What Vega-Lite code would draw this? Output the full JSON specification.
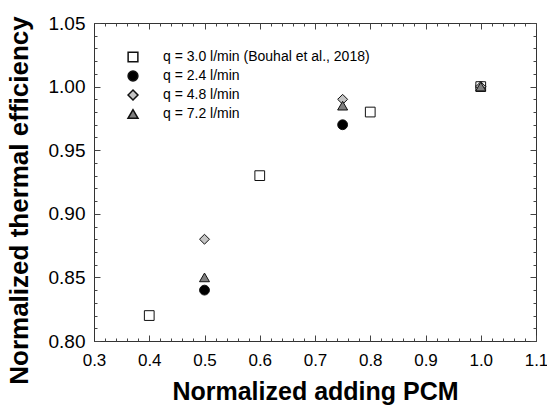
{
  "$schema": "https://vega.github.io/schema/vega-lite/v6.json",
  "autosize": {"type": "none"},
  "padding": {"left": 94, "top": 23, "right": 11, "bottom": 68},
  "width": 442,
  "height": 318,
  "background": "white",
  "config": {
    "font": "Liberation Sans",
    "view": {"stroke": "#333", "strokeWidth": 1},
    "axis": {"tickColor": "#444", "domainColor": "#333", "grid": false, "tickWidth": 1}
  },
  "data": {"values": [
    {"series": "q = 3.0 l/min (Bouhal et al., 2018)", "x": 0.4, "y": 0.82},
    {"series": "q = 3.0 l/min (Bouhal et al., 2018)", "x": 0.6, "y": 0.93},
    {"series": "q = 3.0 l/min (Bouhal et al., 2018)", "x": 0.8, "y": 0.98},
    {"series": "q = 3.0 l/min (Bouhal et al., 2018)", "x": 1.0, "y": 1.0},
    {"series": "q = 2.4 l/min", "x": 0.5, "y": 0.84},
    {"series": "q = 2.4 l/min", "x": 0.75, "y": 0.97},
    {"series": "q = 2.4 l/min", "x": 1.0, "y": 1.0},
    {"series": "q = 4.8 l/min", "x": 0.5, "y": 0.88},
    {"series": "q = 4.8 l/min", "x": 0.75, "y": 0.99},
    {"series": "q = 4.8 l/min", "x": 1.0, "y": 1.0},
    {"series": "q = 7.2 l/min", "x": 0.5, "y": 0.85},
    {"series": "q = 7.2 l/min", "x": 0.75, "y": 0.985},
    {"series": "q = 7.2 l/min", "x": 1.0, "y": 1.0}
  ]},
  "resolve": {"axis": {"x": "independent", "y": "independent"}},
  "layer": [
    {
      "mark": {"type": "point", "filled": true, "stroke": "#111", "strokeWidth": 1, "opacity": 1},
      "encoding": {
        "x": {"field": "x", "type": "quantitative",
              "scale": {"domain": [0.3, 1.1], "nice": false, "zero": false},
              "axis": {"orient": "bottom", "values": [0.3,0.4,0.5,0.6,0.7,0.8,0.9,1.0,1.1], "format": ".1f", "ticks": false,
                       "title": "Normalized adding PCM", "titleFontSize": 25, "titleFontWeight": "bold", "titleColor": "#000", "titlePadding": 11,
                       "labelFontSize": 17, "labelColor": "#000", "labelPadding": 11, "labelFlush": false}},
        "y": {"field": "y", "type": "quantitative",
              "scale": {"domain": [0.8, 1.05], "nice": false, "zero": false},
              "axis": {"orient": "left", "values": [0.8,0.85,0.9,0.95,1.0,1.05], "format": ".2f", "ticks": false,
                       "title": "Normalized thermal efficiency", "titleFontSize": 26, "titleFontWeight": "bold", "titleColor": "#000", "titlePadding": 16,
                       "titleY": 177, "labelFontSize": 19, "labelColor": "#000", "labelPadding": 9, "labelFlush": false}},
        "shape": {"field": "series", "type": "nominal",
                  "scale": {"domain": ["q = 3.0 l/min (Bouhal et al., 2018)", "q = 2.4 l/min", "q = 4.8 l/min", "q = 7.2 l/min"],
                            "range": ["square", "circle", "diamond", "triangle-up"]},
                  "legend": {"title": null, "orient": "none", "legendX": 32, "legendY": 27, "labelFontSize": 14, "labelColor": "#000", "labelLimit": 400,
                             "labelOffset": 23, "rowPadding": 3, "symbolOpacity": 1,
                             "encode": {"symbols": {"update": {"stroke": {"value": "#111"}, "strokeWidth": {"value": 1}}}}}},
        "fill": {"field": "series", "type": "nominal",
                 "scale": {"domain": ["q = 3.0 l/min (Bouhal et al., 2018)", "q = 2.4 l/min", "q = 4.8 l/min", "q = 7.2 l/min"],
                           "range": ["#ffffff", "#000000", "#c4c4c4", "#7f7f7f"]},
                 "legend": {"title": null, "orient": "none", "legendX": 32, "legendY": 27, "labelFontSize": 14, "labelColor": "#000", "labelLimit": 400,
                            "labelOffset": 23, "rowPadding": 3, "symbolOpacity": 1,
                            "encode": {"symbols": {"update": {"stroke": {"value": "#111"}, "strokeWidth": {"value": 1}}}}}},
        "size": {"field": "series", "type": "nominal",
                 "scale": {"domain": ["q = 3.0 l/min (Bouhal et al., 2018)", "q = 2.4 l/min", "q = 4.8 l/min", "q = 7.2 l/min"],
                           "range": [95, 100, 150, 110]},
                 "legend": {"title": null, "orient": "none", "legendX": 32, "legendY": 27, "labelFontSize": 14, "labelColor": "#000", "labelLimit": 400,
                            "labelOffset": 23, "rowPadding": 3, "symbolOpacity": 1,
                            "encode": {"symbols": {"update": {"stroke": {"value": "#111"}, "strokeWidth": {"value": 1}}}}}},
        "order": {"field": "series", "sort": "ascending"}
      }
    },
    {
      "mark": {"type": "point", "opacity": 0},
      "encoding": {
        "x": {"field": "x", "type": "quantitative",
              "scale": {"domain": [0.3, 1.1], "nice": false, "zero": false},
              "axis": {"orient": "bottom", "offset": -6, "values": [0.3,0.4,0.5,0.6,0.7,0.8,0.9,1.0,1.1],
                       "labels": false, "title": null, "domain": false, "tickSize": 6}},
        "y": {"field": "y", "type": "quantitative",
              "scale": {"domain": [0.8, 1.05], "nice": false, "zero": false},
              "axis": {"orient": "left", "offset": -6, "values": [0.8,0.85,0.9,0.95,1.0,1.05],
                       "labels": false, "title": null, "domain": false, "tickSize": 6}}
      }
    },
    {
      "mark": {"type": "point", "opacity": 0},
      "encoding": {
        "x": {"field": "x", "type": "quantitative",
              "scale": {"domain": [0.3, 1.1], "nice": false, "zero": false},
              "axis": {"orient": "bottom", "offset": -3, "values": [0.32,0.34,0.36,0.38,0.42,0.44,0.46,0.48,0.52,0.54,0.56,0.58,0.62,0.64,0.66,0.68,0.72,0.74,0.76,0.78,0.82,0.84,0.86,0.88,0.92,0.94,0.96,0.98,1.02,1.04,1.06,1.08],
                       "labels": false, "title": null, "domain": false, "tickSize": 3}},
        "y": {"field": "y", "type": "quantitative",
              "scale": {"domain": [0.8, 1.05], "nice": false, "zero": false},
              "axis": {"orient": "left", "offset": -3, "values": [0.81,0.82,0.83,0.84,0.86,0.87,0.88,0.89,0.91,0.92,0.93,0.94,0.96,0.97,0.98,0.99,1.01,1.02,1.03,1.04],
                       "labels": false, "title": null, "domain": false, "tickSize": 3}}
      }
    },
    {
      "mark": {"type": "point", "opacity": 0},
      "encoding": {
        "x": {"field": "x", "type": "quantitative",
              "scale": {"domain": [0.3, 1.1], "nice": false, "zero": false},
              "axis": {"orient": "top", "offset": -6, "values": [0.3,0.4,0.5,0.6,0.7,0.8,0.9,1.0,1.1],
                       "labels": false, "title": null, "domain": false, "tickSize": 6}},
        "y": {"field": "y", "type": "quantitative",
              "scale": {"domain": [0.8, 1.05], "nice": false, "zero": false},
              "axis": {"orient": "right", "offset": -6, "values": [0.8,0.85,0.9,0.95,1.0,1.05],
                       "labels": false, "title": null, "domain": false, "tickSize": 6}}
      }
    },
    {
      "mark": {"type": "point", "opacity": 0},
      "encoding": {
        "x": {"field": "x", "type": "quantitative",
              "scale": {"domain": [0.3, 1.1], "nice": false, "zero": false},
              "axis": {"orient": "top", "offset": -3, "values": [0.32,0.34,0.36,0.38,0.42,0.44,0.46,0.48,0.52,0.54,0.56,0.58,0.62,0.64,0.66,0.68,0.72,0.74,0.76,0.78,0.82,0.84,0.86,0.88,0.92,0.94,0.96,0.98,1.02,1.04,1.06,1.08],
                       "labels": false, "title": null, "domain": false, "tickSize": 3}},
        "y": {"field": "y", "type": "quantitative",
              "scale": {"domain": [0.8, 1.05], "nice": false, "zero": false},
              "axis": {"orient": "right", "offset": -3, "values": [0.81,0.82,0.83,0.84,0.86,0.87,0.88,0.89,0.91,0.92,0.93,0.94,0.96,0.97,0.98,0.99,1.01,1.02,1.03,1.04],
                       "labels": false, "title": null, "domain": false, "tickSize": 3}}
      }
    }
  ]
}
